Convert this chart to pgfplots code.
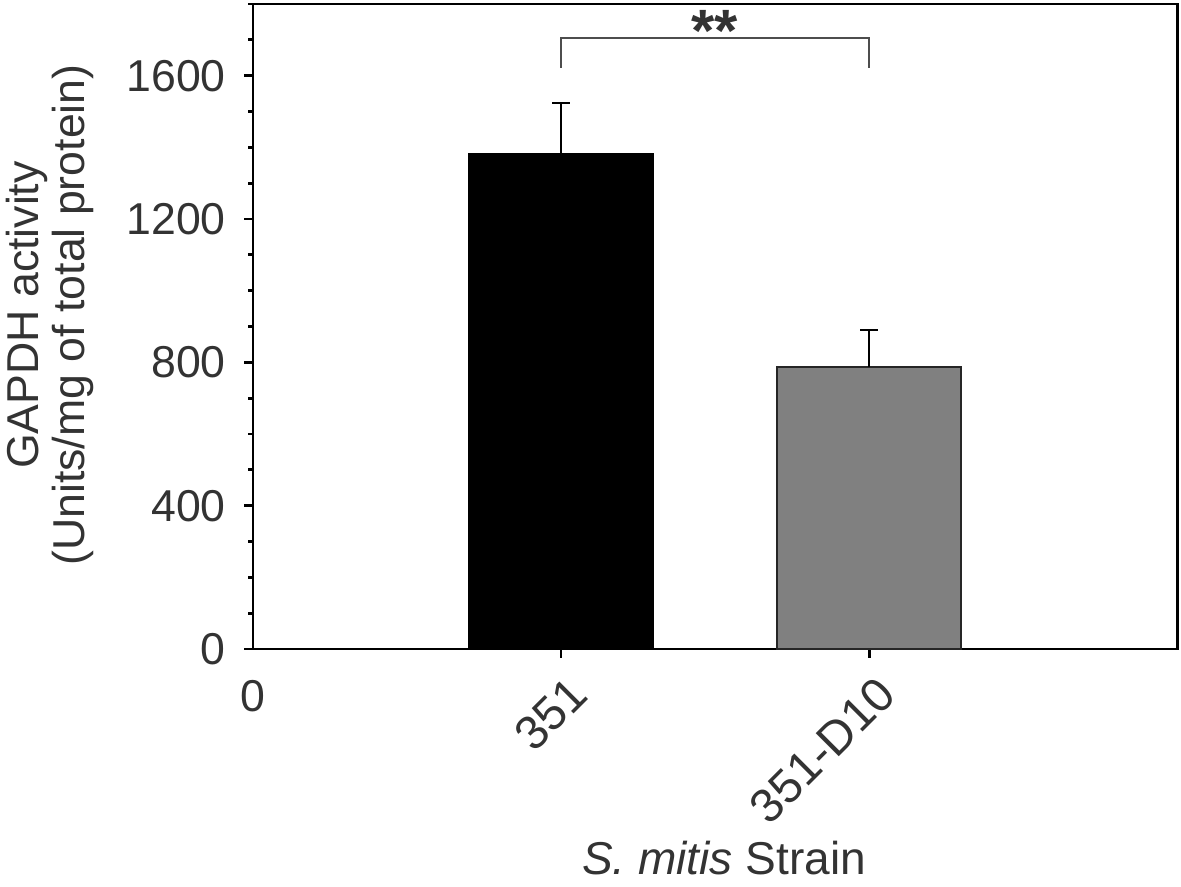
\documentclass[border=0pt]{standalone}
\usepackage{pgfplots}
\pgfplotsset{compat=1.18}
\usepackage{fontspec}
\setmainfont{Liberation Sans}
\definecolor{txt}{HTML}{333333}
\definecolor{bargray}{HTML}{808080}
\definecolor{brk}{HTML}{4D4D4D}

\begin{document}
\begin{tikzpicture}[font=\fontsize{12.7}{13}\selectfont]
  % page frame, 0.1 mm per reference pixel
  \path[use as bounding box] (-25.3mm,-23.7mm) rectangle (92.8mm,64.9mm);
  \begin{axis}[
      scale only axis,
      width=92.4mm, height=64.5mm,
      xmin=0, xmax=3,
      ymin=0, ymax=1800,
      ybar, bar width=0.6, bar shift=0pt,
      xtick={1,2}, xticklabels={351,351-D10},
      ytick={0,400,...,1600},
      minor ytick={0,100,...,1800},
      xtick pos=bottom, ytick pos=left,
      tick align=outside,
      major tick length=0.85mm, minor tick length=0.45mm,
      every tick/.style={black, line width=0.85pt},
      axis line style={line width=0.85pt},
      tick label style={txt, /pgf/number format/assume math mode=true},
      /pgf/number format/1000 sep={},
      yticklabel style={anchor=east, inner sep=0pt, xshift=-1.8mm},
      xticklabel style={rotate=45, anchor=north east, inner sep=0pt,
        yshift=-1.5mm, xshift=-0.7mm, font=\fontsize{13.5}{14}\selectfont},
      clip=false,
    ]
    \addplot[fill=black, draw=black, line width=0.6pt,
      error bars/.cd, y dir=plus, y explicit,
      error bar style={black, line width=0.6pt},
      error mark options={rotate=90, black, line width=0.6pt, mark size=0.9mm}]
      coordinates {(1,1382) +- (0,141)};
    \addplot[fill=bargray, draw=black!85, line width=0.6pt,
      error bars/.cd, y dir=plus, y explicit,
      error bar style={black, line width=0.6pt},
      error mark options={rotate=90, black, line width=0.6pt, mark size=0.9mm}]
      coordinates {(2,788) +- (0,101)};
    % significance bracket
    \draw[brk, line width=0.6pt] (axis cs:1,1622) -- (axis cs:1,1706) -- (axis cs:2,1706) -- (axis cs:2,1622);
    \node[txt, font=\fontsize{17}{17}\selectfont\bfseries, anchor=base, inner sep=0pt] at (axis cs:1.5,1668) {**};
    \node[txt, anchor=north, inner sep=0pt] at (axis cs:0,0) [yshift=-3.1mm] {0};
  \end{axis}
  \node[txt, rotate=90, align=center, inner sep=0pt, font=\fontsize{12.7}{13}\selectfont] at (-20.3mm,33.4mm)
    {GAPDH activity\\(Units/mg of total protein)};
  \node[txt, anchor=base, inner sep=0pt, font=\fontsize{13.1}{14}\selectfont] at (47.1mm,-22.5mm) {\textit{S. mitis} Strain};
\end{tikzpicture}
\end{document}
